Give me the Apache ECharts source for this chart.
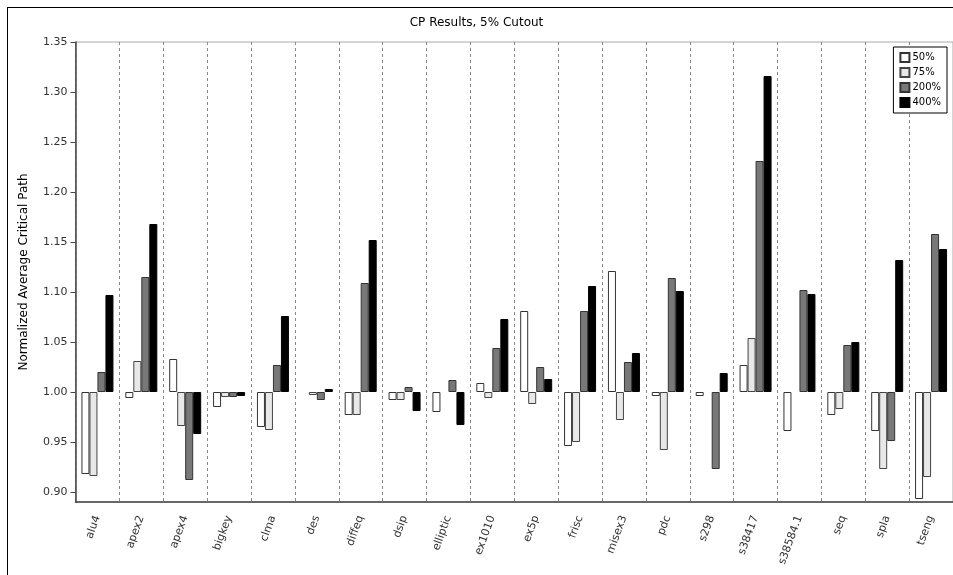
<!DOCTYPE html>
<html>
<head>
<meta charset="utf-8">
<script src="https://cdn.jsdelivr.net/npm/echarts@6/dist/echarts.min.js"></script>
<style>
    html, body { margin: 0; padding: 0; background: #fff; }
    #main { position: absolute; left: 0; top: 0; width: 953px; height: 575px; }
    #frame { position: absolute; left: 7px; top: 7px; width: 960px; height: 580px;
             border-left: 1px solid #000; border-top: 1px solid #000; pointer-events: none; }
</style>
</head>
<body>
<div id="main"></div>
<div id="frame"></div>
<script>
    // 各电路名
    var circuits = ['alu4', 'apex2', 'apex4', 'bigkey', 'clma', 'des', 'diffeq', 'dsip', 'elliptic', 'ex1010',
        'ex5p', 'frisc', 'misex3', 'pdc', 's298', 's38417', 's38584.1', 'seq', 'spla', 'tseng'];
    var seriesNames = ['50%', '75%', '200%', '400%'];

    // normalized average critical path
    var cut50 = [0.918, 0.994, 1.033, 0.985, 0.965, 1.000, 0.977, 0.992, 0.980, 1.009,
        1.081, 0.946, 1.121, 0.996, 0.996, 1.027, 0.961, 0.977, 0.961, 0.893];
    var cut75 = [0.916, 1.031, 0.966, 0.995, 0.962, 0.997, 0.977, 0.992, 1.000, 0.994,
        0.988, 0.950, 0.972, 0.942, 1.000, 1.054, 1.000, 0.983, 0.923, 0.915];
    var cut200 = [1.020, 1.115, 0.912, 0.995, 1.027, 0.992, 1.109, 1.005, 1.012, 1.044,
        1.025, 1.081, 1.030, 1.114, 0.923, 1.231, 1.102, 1.047, 0.951, 1.158];
    var cut400 = [1.097, 1.168, 0.958, 0.996, 1.076, 1.003, 1.152, 0.981, 0.967, 1.073,
        1.013, 1.106, 1.039, 1.101, 1.019, 1.316, 1.098, 1.050, 1.132, 1.143];

    var yTicks = [0.90, 0.95, 1.00, 1.05, 1.10, 1.15, 1.20, 1.25, 1.30, 1.35];
    var yMin = 0.89, yMax = 1.35, baseLine = 1.0;

    var fills = ['#ffffff', '#e8e8e8', '#787878', '#000000'];
    var edges = ['#333333', '#444444', '#333333', '#000000'];

    // bars grow from 1.00, so plot the offset from the baseline (no bar when equal)
    function offset(arr) {
        return arr.map(function (v) {
            var d = Math.round((v - baseLine) * 1000) / 1000;
            return d === 0 ? '-' : d;
        });
    }
    function tickOffset(t) {
        return Math.round((t - baseLine) * 100) / 100;
    }

    var allData = [cut50, cut75, cut200, cut400];
    var series = [];
    for (var i = 0; i < seriesNames.length; i++) {
        series.push({
            name: seriesNames[i],
            type: 'bar',
            barGap: '0%',
            barWidth: 8,
            data: offset(allData[i]),
            itemStyle: { color: fills[i], borderColor: edges[i], borderWidth: 1 },
            emphasis: { disabled: true }
        });
    }

    var chart = echarts.init(document.getElementById('main'));
    var option = {
        animation: false,
        textStyle: { fontFamily: 'DejaVu Sans' },
        title: {
            text: 'CP Results, 5% Cutout',
            left: 'center',
            top: 12,
            textStyle: { fontSize: 12, fontWeight: 'normal', color: '#000' }
        },
        legend: {
            data: seriesNames,
            orient: 'vertical',
            right: 6,
            top: 47,
            padding: [5, 6, 5, 6],
            itemGap: 4,
            itemWidth: 9,
            itemHeight: 9,
            icon: 'rect',
            borderColor: '#000',
            borderWidth: 1,
            backgroundColor: '#fff',
            textStyle: { fontSize: 10, color: '#000', padding: [0, 0, 0, -2] }
        },
        grid: {
            left: 75.5,
            right: -2.5,
            top: 42,
            bottom: 73,
            show: true,
            borderColor: '#aaaaaa',
            borderWidth: 1
        },
        xAxis: {
            type: 'category',
            data: circuits,
            axisLine: { onZero: false, lineStyle: { color: '#444', width: 1.5 } },
            axisTick: { length: 5, lineStyle: { color: '#444' } },
            axisLabel: {
                rotate: 70, fontSize: 11, color: '#333', margin: 14, interval: 0,
                padding: [16, 0, 0, 0]
            },
            splitLine: {
                show: true,
                interval: 0,
                lineStyle: { color: '#888', type: [3, 3], width: 1 }
            }
        },
        yAxis: {
            type: 'value',
            min: tickOffset(yMin),
            max: tickOffset(yMax),
            name: 'Normalized Average Critical Path',
            nameLocation: 'middle',
            nameGap: 46,
            nameTextStyle: { fontSize: 12, color: '#000' },
            axisLine: { show: true, lineStyle: { color: '#444', width: 1.5 } },
            axisTick: {
                show: true,
                length: 5,
                lineStyle: { color: '#444' },
                customValues: yTicks.map(tickOffset)
            },
            axisLabel: {
                fontSize: 11,
                color: '#333',
                margin: 8,
                customValues: yTicks.map(tickOffset),
                formatter: function (v) { return (v + baseLine).toFixed(2); }
            },
            splitLine: { show: false }
        },
        series: series
    };
    chart.setOption(option);
</script>
</body>
</html>
